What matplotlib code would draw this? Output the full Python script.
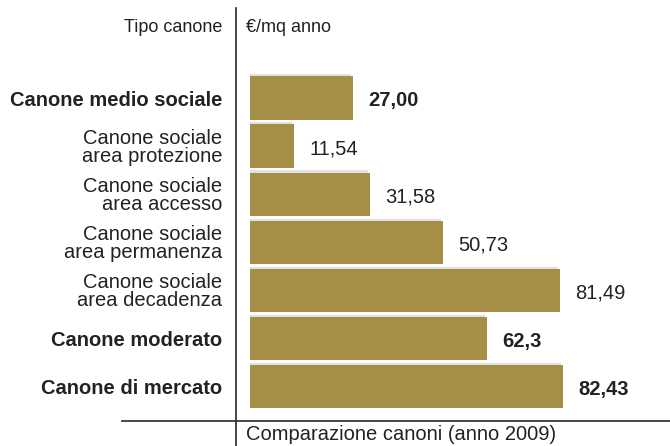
import matplotlib.pyplot as plt
import matplotlib.patheffects as pe
from matplotlib.lines import Line2D

plt.rcParams['font.family'] = ['Liberation Sans', 'DejaVu Sans']

# canoni per tipo (euro/mq anno), anno 2009
categorie = [
    "Canone medio sociale",
    "Canone sociale\narea protezione",
    "Canone sociale\narea accesso",
    "Canone sociale\narea permanenza",
    "Canone sociale\narea decadenza",
    "Canone moderato",
    "Canone di mercato",
]
valori = [27.00, 11.54, 31.58, 50.73, 81.49, 62.3, 82.43]
etichette = ["27,00", "11,54", "31,58", "50,73", "81,49", "62,3", "82,43"]
in_grassetto = [True, False, False, False, False, True, True]

W, H = 670, 446
fig = plt.figure(figsize=(W / 100, H / 100), dpi=100)
ax = fig.add_axes([250 / W, (H - 420) / H, 420 / W, 370 / H])

col_barre = "#a58e45"
col_testo = "#222222"

pos = list(range(len(valori)))
barre = ax.barh(pos, valori, height=0.9, color=col_barre, edgecolor="none")
for b in barre:
    b.set_path_effects([pe.SimplePatchShadow(offset=(-1.5, 1.5), shadow_rgbFace="#888888", alpha=0.25),
                        pe.Normal()])
ax.set_xlim(0, 420 / 3.8)
ax.set_ylim(6.70, -1.0)

ax.set_yticks(pos, categorie)
ax.tick_params(axis="y", length=0, pad=20, labelsize=14.5, labelcolor=col_testo)
ax.set_xticks([])
for lab, b in zip(ax.get_yticklabels(), in_grassetto):
    lab.set_horizontalalignment("right")
    lab.set_linespacing(0.9)
    if b:
        lab.set_fontweight("bold")
for s in ax.spines.values():
    s.set_visible(False)

# valori a destra delle barre
for y, v, t, b in zip(pos, valori, etichette, in_grassetto):
    ax.annotate(t, (v, y), xytext=(11, -2), textcoords="offset points",
                va="center", ha="left", fontsize=14.5, color=col_testo,
                fontweight="bold" if b else "normal")

# linee di separazione
fig.add_artist(Line2D([236 / W, 236 / W], [0, (H - 8) / H],
                      color="#2a2a2a", lw=1.2, transform=fig.transFigure))
fig.add_artist(Line2D([122 / W, 1], [(H - 421) / H, (H - 421) / H],
                      color="#2a2a2a", lw=1.2, transform=fig.transFigure))

fig.text(222 / W, (H - 27) / H, "Tipo canone", ha="right", va="center",
         fontsize=13, color=col_testo)
fig.text(246 / W, (H - 27) / H, "€/mq anno", ha="left", va="center",
         fontsize=13, color=col_testo)
fig.text(246 / W, 2 / H, "Comparazione canoni (anno 2009)",
         ha="left", va="bottom", fontsize=14.5, color=col_testo)

fig.savefig("out.png", dpi=100)
